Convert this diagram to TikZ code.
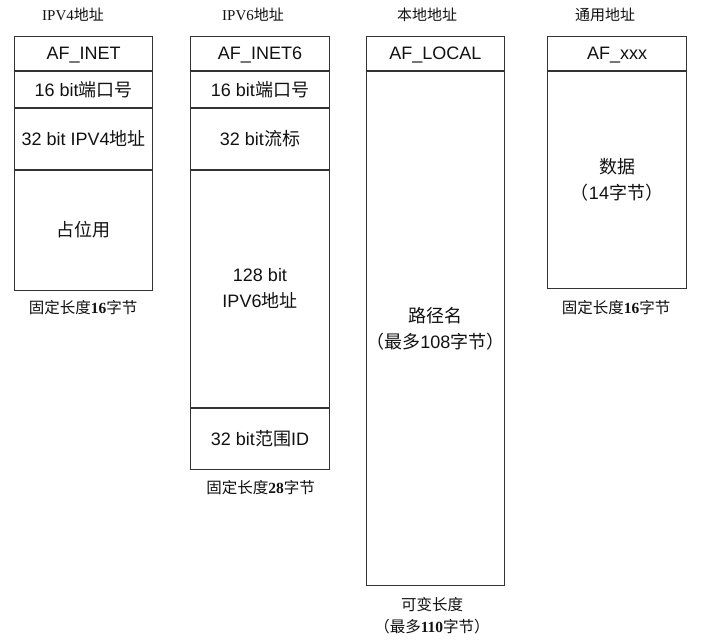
\documentclass[tikz,border=0pt]{standalone}
\usepackage{fontspec}
\setmainfont{Liberation Serif}
\setsansfont{Liberation Sans}
\newfontfamily\cjk{Noto Sans CJK SC}
\newcommand\C[1]{{\cjk #1}}
\definecolor{linec}{HTML}{333333}
\definecolor{txtc}{HTML}{111111}
\begin{document}
\begin{tikzpicture}[x=1pt,y=-1pt,
  cell/.style={draw=linec, line width=1pt, minimum width=138.4pt, inner sep=0pt,
    text=txtc, font=\fontsize{18}{26}\selectfont\sffamily},
  one/.style={text height=13pt, text depth=0pt},
  two/.style={align=center},
  topcell/.style={cell, one, anchor=north west},
  nextcell/.style={cell, anchor=north},
  head/.style={text=txtc, inner sep=0pt, font=\fontsize{15}{18}\selectfont},
  capt/.style={text=txtc, inner sep=0pt, align=center, font=\fontsize{15.5}{22}\selectfont}]
\useasboundingbox (0,0) rectangle (714,644);

% headers
\node[head] (h1) at (73,15) {IPV4\C{地址}};
\node[head] (h2) at (253,15) {IPV6\C{地址}};
\node[head] (h3) at (427,15) {\C{本地地址}};
\node[head] (h4) at (605,15) {\C{通用地址}};

% IPv4
\node[topcell, minimum height=34.6pt] (a1) at (14,35.7) {AF\_INET};
\node[nextcell, one, minimum height=35.7pt] (a2) at (a1.south) {16 bit\C{端口号}};
\node[nextcell, one, minimum height=60.7pt] (a3) at (a2.south) {32 bit IPV4\C{地址}};
\node[nextcell, one, minimum height=120.3pt] (a4) at (a3.south) {\C{占位用}};

% IPv6
\node[topcell, minimum height=34.6pt] (b1) at (190.3,35.7) {AF\_INET6};
\node[nextcell, one, minimum height=35.7pt] (b2) at (b1.south) {16 bit\C{端口号}};
\node[nextcell, one, minimum height=60.7pt] (b3) at (b2.south) {32 bit\C{流标}};
\node[nextcell, two, minimum height=237pt] (b4) at (b3.south) {128 bit\\IPV6\C{地址}};
\node[nextcell, one, minimum height=61.3pt] (b5) at (b4.south) {32 bit\C{范围}ID};

% local
\node[topcell, minimum height=34.6pt] (c1) at (365.7,35.7) {AF\_LOCAL};
\node[nextcell, two, minimum height=514pt] (c2) at (c1.south) {\C{路径名}\\\C{（最多}108\C{字节）}};

% generic
\node[topcell, minimum height=34.6pt] (d1) at (547.3,35.7) {AF\_xxx};
\node[nextcell, two, minimum height=216.7pt] (d2) at (d1.south) {\C{数据}\\\C{（}14\C{字节）}};

% captions
\node[capt] (k1) at (83,308) {\C{固定长度}\textbf{16}\C{字节}};
\node[capt] (k2) at (260.5,488) {\C{固定长度}\textbf{28}\C{字节}};
\node[capt] (k3) at (432,616) {\C{可变长度}\\\C{（最多}\textbf{110}\C{字节）}};
\node[capt] (k4) at (616,308) {\C{固定长度}\textbf{16}\C{字节}};
\end{tikzpicture}
\end{document}
